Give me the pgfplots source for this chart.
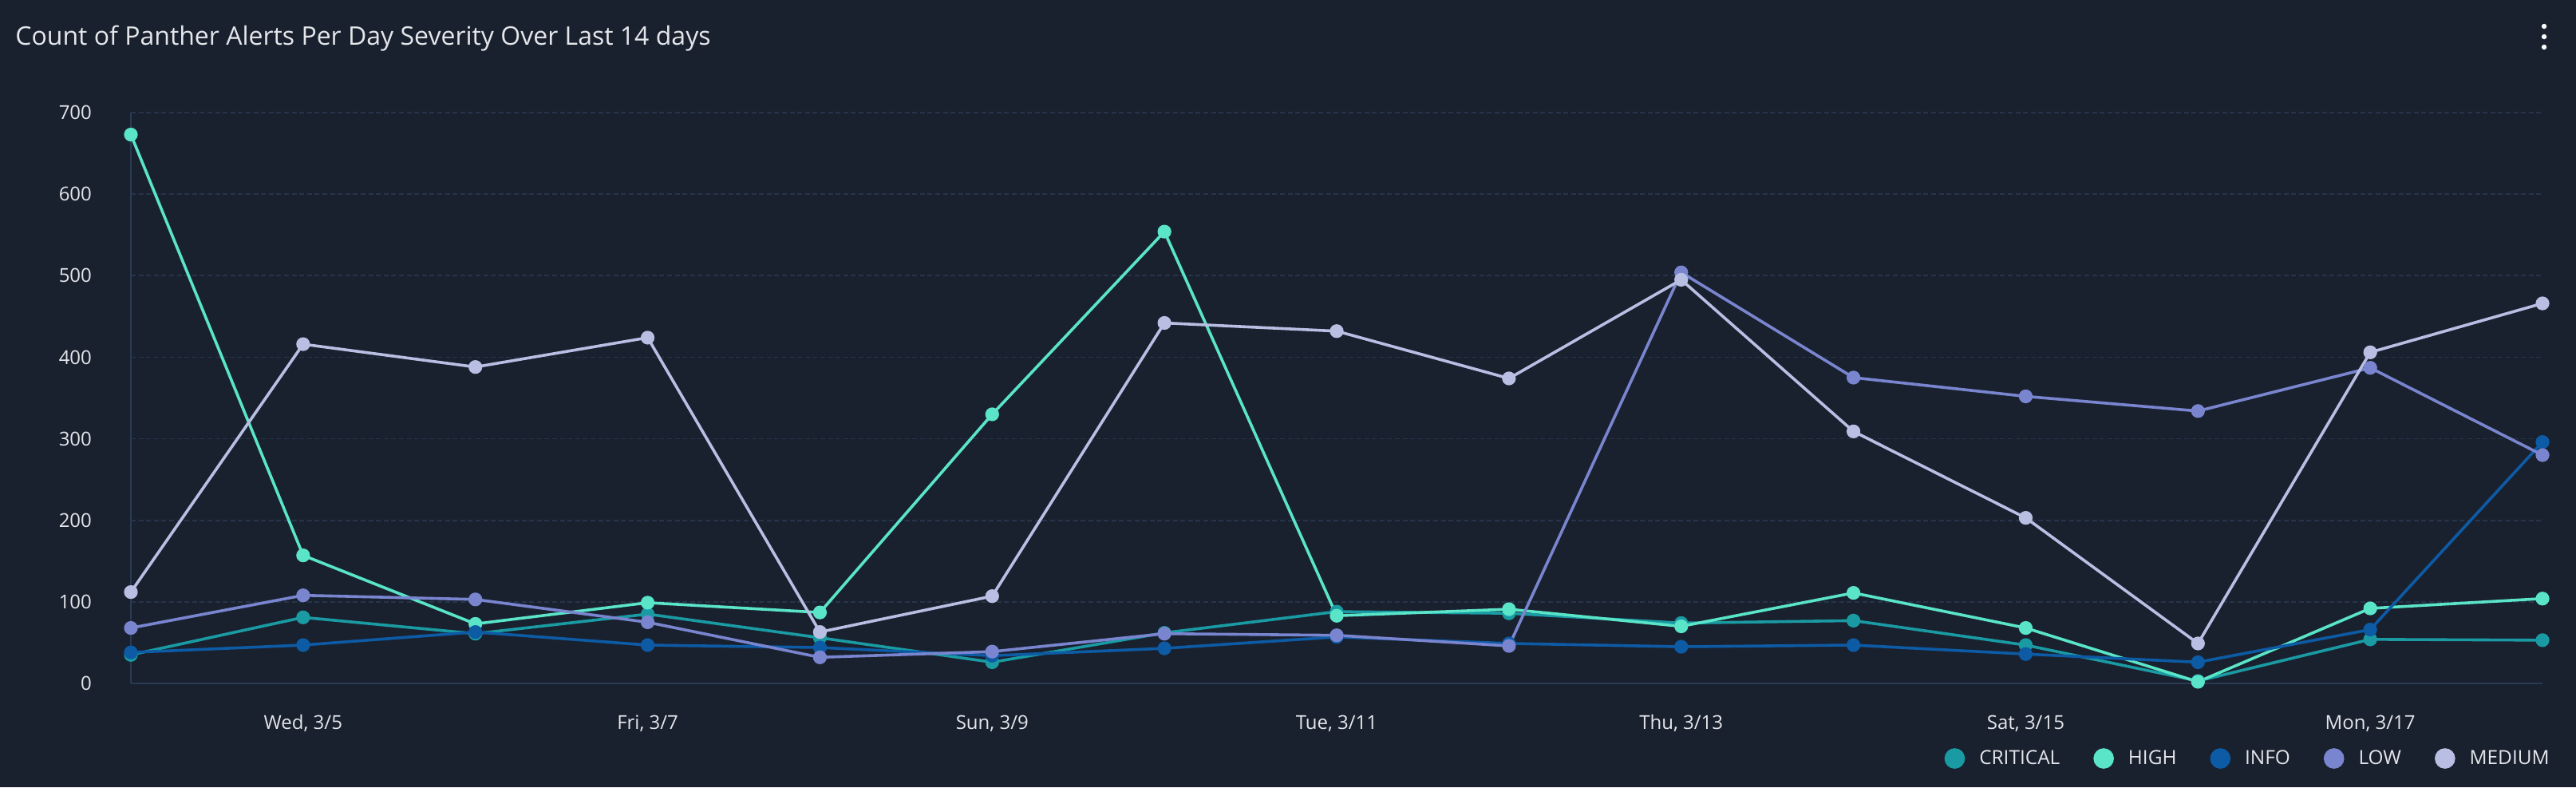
\documentclass[border=0pt]{standalone}
\usepackage{pgfplots}
\pgfplotsset{compat=1.18}
\usepackage{fontspec}
\setmainfont{Open Sans}
\definecolor{bg}{HTML}{19212F}
\definecolor{gridc}{HTML}{27344A}
\definecolor{axc}{HTML}{2A3A55}
\definecolor{txt}{HTML}{E4E6EA}
\definecolor{ccrit}{HTML}{1A9BA3}
\definecolor{chigh}{HTML}{5AE4C8}
\definecolor{cinfo}{HTML}{0D5AA5}
\definecolor{clow}{HTML}{7A85D0}
\definecolor{cmed}{HTML}{B8BFE3}
\begin{document}
\begin{tikzpicture}
\fill[bg] (0,0) rectangle (1614pt,493pt);
\node[anchor=base west, inner sep=0pt, text=txt, font=\fontsize{16}{19}\selectfont] at (9.5pt,464.5pt) {Count of Panther Alerts Per Day Severity Over Last 14 days};
\fill[white] (1594pt,476.5pt) circle (1.6pt);
\fill[white] (1594pt,470pt) circle (1.6pt);
\fill[white] (1594pt,463.5pt) circle (1.6pt);
\begin{axis}[
  at={(82pt,65pt)}, anchor=south west,
  scale only axis, width=1511pt, height=357.5pt,
  xmin=0, xmax=14, ymin=0, ymax=700,
  axis x line*=bottom, axis y line*=left,
  axis line style={color=axc, line width=1pt, -},
  xtick={1,3,5,7,9,11,13},
  xticklabels={{Wed, 3/5},{Fri, 3/7},{Sun, 3/9},{Tue, 3/11},{Thu, 3/13},{Sat, 3/15},{Mon, 3/17}},
  ytick={0,100,...,700},
  major tick length=0pt,
  ymajorgrids,
  grid style={color=gridc, line width=0.8pt, dash pattern=on 3pt off 1.8pt},
  /pgf/number format/assume math mode=true,
  tick label style={text=txt, font=\fontsize{12}{14}\selectfont},
  xticklabel style={anchor=base, yshift=-28.5pt},
  yticklabel style={anchor=east, xshift=-21pt},
  every axis plot/.append style={line width=1.8pt, mark=*, mark size=3.4pt},
  clip=false,
  legend columns=5,
  legend style={draw=none, fill=none, text=txt, font=\fontsize{12.2}{14}\selectfont,
    at={(rel axis cs:1.0043,-0.1315)}, anchor=east, inner sep=0pt,
    /tikz/every odd column/.append style={column sep=7pt},
    /tikz/every even column/.append style={column sep=19pt}},
  legend image code/.code={\fill (0pt,0pt) circle (5.5pt);},
]
\addplot[color=ccrit] coordinates {(0,35)(1,81)(2,61)(3,85)(4,56)(5,26)(6,62)(7,88)(8,86)(9,74)(10,77)(11,47)(12,3)(13,54)(14,53)};
\addlegendentry{CRITICAL}
\addplot[color=chigh] coordinates {(0,673)(1,157)(2,73)(3,99)(4,87)(5,330)(6,554)(7,83)(8,91)(9,70)(10,111)(11,68)(12,2)(13,92)(14,104)};
\addlegendentry{HIGH}
\addplot[color=cinfo] coordinates {(0,38)(1,47)(2,63)(3,47)(4,44)(5,34)(6,43)(7,57)(8,49)(9,45)(10,47)(11,36)(12,26)(13,66)(14,296)};
\addlegendentry{INFO}
\addplot[color=clow] coordinates {(0,68)(1,108)(2,103)(3,75)(4,32)(5,39)(6,61)(7,59)(8,46)(9,504)(10,375)(11,352)(12,334)(13,387)(14,280)};
\addlegendentry{LOW}
\addplot[color=cmed] coordinates {(0,112)(1,416)(2,388)(3,424)(4,63)(5,107)(6,442)(7,432)(8,374)(9,495)(10,309)(11,203)(12,49)(13,406)(14,466)};
\addlegendentry{MEDIUM}
\end{axis}
\end{tikzpicture}
\end{document}
